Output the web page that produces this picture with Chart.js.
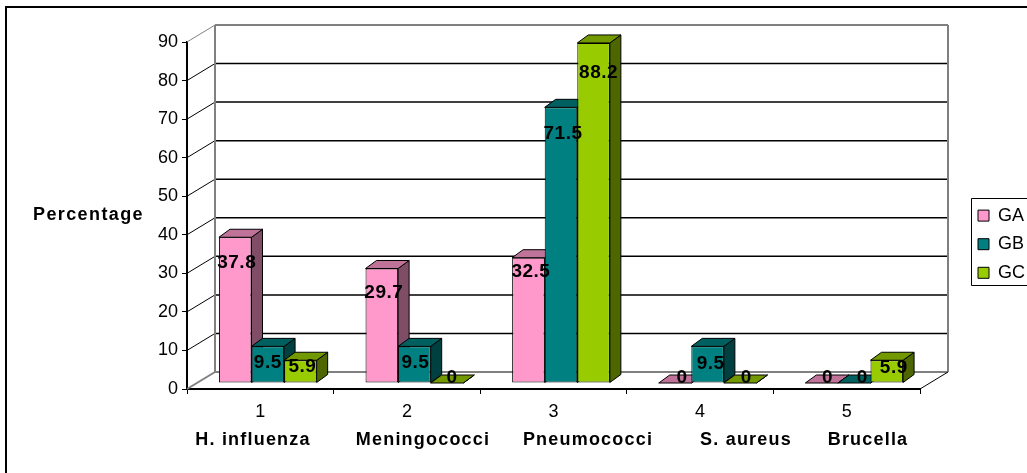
<!DOCTYPE html>
<html>
<head>
<meta charset="utf-8">
<style>
	body { margin: 0; background: #fff; }
	canvas { display: block; }
</style>
<script src="https://cdn.jsdelivr.net/npm/chart.js@4"></script>
</head>
<body>
<canvas id="chart" width="1027" height="473"></canvas>
<script>
const categories = ['1', '2', '3', '4', '5'];
const organisms = ['H. influenza', 'Meningococci', 'Pneumococci', 'S. aureus', 'Brucella'];
const seriesNames = ['GA', 'GB', 'GC'];
const ga = [37.8, 29.7, 32.5, 0, 0];
const gb = [9.5, 9.5, 71.5, 9.5, 0];
const gc = [5.9, 0, 88.2, 0, 5.9];

// [front, top, side] like the old excel 3d shading
const colors = [
	['#ff99cc', '#bf7399', '#804d66'],
	['#008080', '#006060', '#004040'],
	['#99cc00', '#739900', '#4d6600']
];

// value labels were dragged around by hand in the original, so each has its own nudge
const labelDx = [[1.5, 2, 2.5, 7, 6], [0, 1, 2, 3, 8], [2, 5, 5, 6, 7]];
const labelDy = [[25.5, 24, 14.5, -5, -5], [16.5, 16.5, 26.5, 17, -5], [7, -5, 29.5, -5, 8]];
const organismX = [253, 423, 588, 746, 868];

const FONT = '"Liberation Sans", Arial, sans-serif';
const wall = { dx: 28, dy: 17 };
const barShift = { dx: 7.5, dy: -6 };
const barDepth = { dx: 11, dy: -8 };

function line(ctx, x1, y1, x2, y2, color, width) {
	ctx.strokeStyle = color;
	ctx.lineWidth = width;
	ctx.beginPath();
	ctx.moveTo(x1, y1);
	ctx.lineTo(x2, y2);
	ctx.stroke();
}

function poly(ctx, pts, fill) {
	ctx.fillStyle = fill;
	ctx.strokeStyle = '#000';
	ctx.lineWidth = 1;
	ctx.beginPath();
	pts.forEach((p, i) => i ? ctx.lineTo(p[0], p[1]) : ctx.moveTo(p[0], p[1]));
	ctx.closePath();
	ctx.fill();
	ctx.stroke();
}

function text(ctx, str, x, y, font, spacing) {
	ctx.font = font;
	ctx.letterSpacing = spacing;
	ctx.fillStyle = '#000';
	ctx.textAlign = 'center';
	ctx.textBaseline = 'middle';
	ctx.fillText(str, x, y);
	ctx.letterSpacing = '0px';
}

const box3d = {
	id: 'box3d',
	afterLayout(chart) {
		// legend sits out of the plot, outside of what the layout gives it
		const l = chart.legend;
		l.left = 967.4;
		l.top = 196;
		l.right = 1027;
		l.bottom = 320;
	},
	beforeDatasetsDraw(chart) {
		const ctx = chart.ctx;
		const area = chart.chartArea;
		const y = chart.scales.y;
		ctx.save();
		for (const t of y.ticks) {
			const py = y.getPixelForValue(t.value);
			if (t.value === 0 || t.value === 90) continue;
			line(ctx, area.left, py, area.left + wall.dx, py - wall.dy, '#000', 1);
			line(ctx, area.left + wall.dx, py - wall.dy, area.right + wall.dx, py - wall.dy, '#000', 1.5);
		}
		const top = y.getPixelForValue(90);
		const bottom = y.getPixelForValue(0);
		line(ctx, area.left, top, area.left + wall.dx, top - wall.dy, '#808080', 1);
		line(ctx, area.left + wall.dx, top - wall.dy, area.right + wall.dx, top - wall.dy, '#808080', 2);
		line(ctx, area.left + wall.dx, top - wall.dy, area.left + wall.dx, bottom - wall.dy, '#808080', 2);
		line(ctx, area.right + wall.dx, top - wall.dy, area.right + wall.dx, bottom - wall.dy, '#808080', 2);
		line(ctx, area.left + wall.dx, bottom - wall.dy, area.right + wall.dx, bottom - wall.dy, '#808080', 2);
		line(ctx, area.left, bottom, area.left + wall.dx, bottom - wall.dy, '#808080', 2);
		line(ctx, area.right, bottom, area.right + wall.dx, bottom - wall.dy, '#000', 1);

		// sides and tops go first, series by series, the fronts come on top of them
		ctx.translate(barShift.dx, barShift.dy);
		const d = barDepth;
		chart.data.datasets.forEach((ds, s) => {
			const shade = colors[s];
			for (const el of chart.getDatasetMeta(s).data) {
				const l = el.x - el.width / 2, r = el.x + el.width / 2;
				poly(ctx, [[r, el.y], [r + d.dx, el.y + d.dy], [r + d.dx, el.base + d.dy], [r, el.base]], shade[2]);
				poly(ctx, [[l, el.y], [l + d.dx, el.y + d.dy], [r + d.dx, el.y + d.dy], [r, el.y]], shade[1]);
			}
		});
		ctx.restore();
	},
	beforeDatasetDraw(chart) {
		chart.ctx.save();
		chart.ctx.translate(barShift.dx, barShift.dy);
	},
	afterDatasetDraw(chart) {
		chart.ctx.restore();
	},
	afterDatasetsDraw(chart) {
		const ctx = chart.ctx;
		ctx.save();
		chart.data.datasets.forEach((ds, s) => {
			chart.getDatasetMeta(s).data.forEach((el, i) => {
				text(ctx, String(ds.data[i]), el.x + barShift.dx + labelDx[s][i], el.y + barShift.dy + labelDy[s][i], 'bold 19px ' + FONT, '0.5px');
			});
		});
		ctx.restore();
	},
	afterDraw(chart) {
		const ctx = chart.ctx;
		ctx.save();
		// frame around the picture, only top and left survived the crop
		line(ctx, 6, 7, 1027, 7, '#000', 2);
		line(ctx, 6, 6, 6, 473, '#000', 2);
		// legend frame
		line(ctx, 971.5, 198.5, 1027, 198.5, '#000', 1);
		line(ctx, 971.5, 198.5, 971.5, 285.5, '#000', 1);
		line(ctx, 971.5, 285.5, 1027, 285.5, '#000', 1);
		text(ctx, 'Percentage', 88.5, 215, 'bold 18px ' + FONT, '1.4px');
		organisms.forEach((name, i) => text(ctx, name, organismX[i], 440, 'bold 18px ' + FONT, '1.2px'));
		ctx.restore();
	}
};

Chart.defaults.color = '#000';
Chart.defaults.font.family = FONT;

new Chart(document.getElementById('chart'), {
	type: 'bar',
	plugins: [box3d],
	data: {
		labels: categories,
		datasets: [ga, gb, gc].map((values, i) => ({
			label: seriesNames[i],
			data: values,
			backgroundColor: colors[i][0],
			borderColor: '#000',
			borderWidth: 1,
			borderSkipped: false,
			clip: false
		}))
	},
	options: {
		responsive: false,
		animation: false,
		layout: { padding: { top: 42, right: 107, bottom: 0, left: 0 } },
		plugins: {
			tooltip: { enabled: false },
			legend: {
				position: 'chartArea',
				align: 'start',
				labels: {
					boxWidth: 11,
					boxHeight: 11,
					padding: 10.6,
					font: { size: 18 },
					color: '#000'
				}
			}
		},
		scales: {
			x: {
				offset: true,
				afterFit(scale) { scale.height = 84; },
				border: { color: '#000', width: 2 },
				grid: { drawOnChartArea: false, tickLength: 5, tickColor: '#000', offset: true },
				ticks: { font: { size: 18 }, padding: 7, maxRotation: 0 }
			},
			y: {
				min: 0,
				max: 90,
				afterFit(scale) { scale.width = 187; },
				border: { color: '#000', width: 2 },
				grid: { drawOnChartArea: false, tickLength: 5, tickColor: '#000' },
				ticks: { stepSize: 10, font: { size: 18 }, padding: 4 }
			}
		},
		datasets: { bar: { categoryPercentage: 2 / 3, barPercentage: 1 } }
	}
});
</script>
</body>
</html>
